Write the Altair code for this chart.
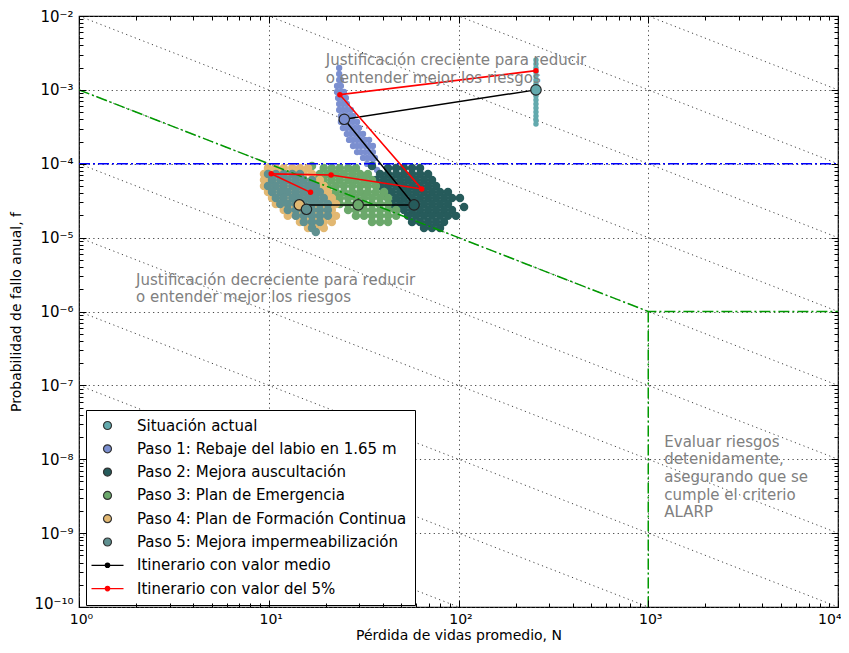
import altair as alt
import pandas as pd

# ---------------- names / colours ----------------
serie_names = [
    "Situación actual",
    "Paso 1: Rebaje del labio en 1.65 m",
    "Paso 2: Mejora auscultación",
    "Paso 3: Plan de Emergencia",
    "Paso 4: Plan de Formación Continua",
    "Paso 5: Mejora impermeabilización",
]
itin_names = ["Itinerario con valor medio", "Itinerario con valor del 5%"]
serie_colors = ["#62a9ad", "#7b8fd0", "#265b5b", "#6ba86b", "#e2b872", "#5f9090"]
itin_colors = ["#000000", "#ff0000"]

# ---------------- scatter clouds (N, f) ----------------
sit_N = [256, 256, 256, 256, 256, 256, 256, 256, 256, 256, 256, 256, 256, 256, 256, 256, 256]
sit_f = [2.54e-3, 2.24e-3, 1.98e-3, 1.75e-3, 1.54e-3, 1.36e-3, 1.20e-3, 1.06e-3, 9.37e-4,
         8.27e-4, 7.30e-4, 6.44e-4, 5.69e-4, 5.02e-4, 4.43e-4, 3.92e-4, 3.46e-4]

p1_rows = [
    (1.98e-3, [23.5]),
    (1.64e-3, [23.5]),
    (1.36e-3, [23.5, 24.0]),
    (1.13e-3, [22.9, 24.0]),
    (9.37e-4, [22.9, 24.0, 24.9]),
    (7.77e-4, [23.2, 24.3, 25.5]),
    (6.44e-4, [23.5, 24.6, 25.8]),
    (5.35e-4, [23.5, 24.6, 25.8, 27.1]),
    (4.43e-4, [24.0, 25.2, 26.5, 27.8]),
    (3.68e-4, [24.0, 25.2, 26.5, 27.8, 29.2]),
    (3.05e-4, [24.6, 25.8, 27.1, 28.5, 29.9]),
    (2.53e-4, [25.8, 27.1, 28.5, 29.9, 31.4]),
    (2.10e-4, [26.5, 27.8, 29.2, 30.6, 32.2, 33.8]),
    (1.74e-4, [27.8, 29.2, 30.6, 32.2, 33.8, 35.4]),
    (1.44e-4, [29.2, 30.6, 32.2, 33.8, 35.4]),
    (1.20e-4, [31.4, 33.0, 34.6, 36.3]),
    (9.94e-5, [33.0, 35.4]),
    (8.24e-5, [37.2]),
]

p2_rows = [
    (9.3e-5, [35.0]),
    (8.77e-5, [42.5, 46.9, 51.6, 56.9, 62.7]),
    (7.28e-5, [38.6, 42.5, 46.9, 51.6, 56.9, 62.7, 69.1]),
    (6.04e-5, [36.7, 40.5, 44.6, 49.2, 54.2, 59.7, 65.8, 72.5]),
    (5.01e-5, [38.6, 42.5, 46.9, 51.6, 56.9, 62.7, 69.1, 76.1]),
    (4.15e-5, [40.5, 44.6, 49.2, 54.2, 59.7, 65.8, 72.5, 79.9, 88.0]),
    (3.44e-5, [42.5, 46.9, 51.6, 56.9, 62.7, 69.1, 76.1, 83.9, 92.4, 101.8]),
    (2.86e-5, [44.6, 49.2, 54.2, 59.7, 65.8, 72.5, 79.9, 88.0]),
    (2.60e-5, [107.0]),
    (2.37e-5, [46.9, 51.6, 56.9, 62.7, 69.1, 76.1, 83.9, 92.4]),
    (1.97e-5, [54.2, 59.7, 65.8, 72.5, 79.9, 88.0, 97.0]),
    (1.63e-5, [56.9, 62.7, 69.1, 76.1, 83.9]),
    (1.35e-5, [65.8, 72.5, 79.9]),
]

p3_rows = [
    (9.3e-5, [16.9]),
    (8.77e-5, [19.5, 21.5, 23.7, 26.2, 28.8]),
    (7.28e-5, [18.6, 20.5, 22.6, 24.9, 27.5, 30.3, 33.3]),
    (6.04e-5, [17.7, 19.5, 21.5, 23.7, 26.2, 28.8, 31.8, 35.0]),
    (5.01e-5, [18.6, 20.5, 22.6, 24.9, 27.5, 30.3, 33.3, 36.7]),
    (4.15e-5, [20.5, 22.6, 24.9, 27.5, 30.3, 33.3, 36.7, 40.5]),
    (3.44e-5, [21.5, 23.7, 26.2, 28.8, 31.8, 35.0, 38.6, 42.5]),
    (2.86e-5, [23.7, 26.2, 28.8, 31.8, 35.0, 38.6, 42.5]),
    (2.37e-5, [26.2, 28.8, 31.8, 35.0, 38.6, 42.5, 46.9]),
    (1.97e-5, [28.8, 31.8, 35.0, 38.6, 42.5, 46.9]),
    (1.63e-5, [35.0, 38.6, 42.5]),
]

p4_rows = [
    (8.77e-5, [9.91, 10.9, 12.0, 13.3, 14.6, 16.1]),
    (7.28e-5, [9.44, 10.4, 11.5, 12.6, 13.9, 15.3, 16.9]),
    (6.04e-5, [9.44, 10.4, 11.5, 12.6, 13.9, 15.3, 16.9, 18.6]),
    (5.01e-5, [9.44, 9.91, 10.9, 12.0, 13.3, 14.6, 16.1, 17.7, 19.5]),
    (4.15e-5, [9.91, 10.4, 11.5, 12.6, 13.9, 15.3, 16.9, 18.6, 20.5]),
    (3.44e-5, [10.4, 10.9, 12.0, 13.3, 14.6, 16.1, 17.7, 19.5, 21.5]),
    (2.86e-5, [10.9, 11.5, 12.6, 13.9, 15.3, 16.9, 18.6, 20.5, 22.6]),
    (2.37e-5, [12.0, 13.3, 14.6, 16.1, 17.7, 19.5, 21.5]),
    (1.97e-5, [12.6, 13.9, 15.3, 16.9, 18.6, 20.5, 22.6]),
    (1.63e-5, [14.6, 16.1, 17.7, 19.5, 21.5]),
    (1.35e-5, [16.1, 17.7, 19.5]),
]

p5_rows = [
    (7.28e-5, [9.91, 10.9, 12.0, 13.3, 14.6]),
    (6.04e-5, [10.4, 11.5, 12.6, 13.9, 15.3, 16.9]),
    (5.01e-5, [9.91, 10.9, 12.0, 13.3, 14.6, 16.1, 17.7]),
    (4.15e-5, [10.4, 11.5, 12.6, 13.9, 15.3, 16.9, 18.6]),
    (3.44e-5, [10.9, 12.0, 13.3, 14.6, 16.1, 17.7, 19.5]),
    (2.86e-5, [11.5, 12.6, 13.9, 15.3, 16.9, 18.6, 20.5]),
    (2.37e-5, [12.6, 13.9, 15.3, 16.9, 18.6, 20.5]),
    (1.97e-5, [13.9, 15.3, 16.9, 18.6, 20.5]),
    (1.63e-5, [15.3, 16.9, 18.6]),
    (1.35e-5, [16.9]),
    (1.19e-5, [17.7]),
]

# ---------------- itineraries ----------------
mean_N = [256, 25.0, 58.3, 29.6, 14.5, 15.8]
mean_f = [1.0e-3, 4.0e-4, 2.77e-5, 2.77e-5, 2.77e-5, 2.42e-5]
pct5_N = [256, 23.7, 64.0, 21.3, 10.3, 16.6]
pct5_f = [1.82e-3, 8.6e-4, 4.56e-5, 7.05e-5, 7.3e-5, 4.1e-5]

# ---------------- reference lines ----------------
iso_levels = [10, 1, 1e-1, 1e-2, 1e-3, 1e-4, 1e-5, 1e-6, 1e-7, 1e-8, 1e-9]   # f * N = constant
alarp_N = [1, 1000, 10000]
alarp_f = [1e-3, 1e-6, 1e-6]
alarp_v_N = [1000, 1000]
alarp_v_f = [1e-6, 1e-10]
limit_f = 1e-4

# ---------------- annotations ----------------
ann_text = [
    "Justificación creciente para reducir\no entender mejor los riesgos",
    "Justificación decreciente para reducir\no entender mejor los riesgos",
    "Evaluar riesgos\ndetenidamente,\nasegurando que se\ncumple el criterio\nALARP",
]
ann_N = [20.0, 2.0, 1215]
ann_f = [3.16e-3, 3.33e-6, 2.14e-8]

# ---------------- axis ticks ----------------
x_major = [1, 10, 100, 1000, 10000]
y_major = [1e-10, 1e-9, 1e-8, 1e-7, 1e-6, 1e-5, 1e-4, 1e-3, 1e-2]
x_all = [m * 10 ** e for e in range(0, 4) for m in range(1, 10)] + [10000]
y_all = [m * 10.0 ** e for e in range(-10, -2) for m in range(1, 10)] + [1e-2]

SUP = {"0": "⁰", "1": "¹", "2": "²", "3": "³", "4": "⁴", "5": "⁵",
       "6": "⁶", "7": "⁷", "8": "⁸", "9": "⁹", "-": "⁻"}


def sup(e):
    return "10" + "".join(SUP[c] for c in str(e))


def label_expr(exps):
    parts = [f"round(log(datum.value)/LN10) == {e} ? '{sup(e)}' : " for e in exps]
    return "".join(parts) + "''"


x_expr = label_expr(range(0, 5))
y_expr = label_expr(range(-10, -1))
is_major = "abs(log(datum.value)/LN10 - round(log(datum.value)/LN10)) < 0.001"
is_last_x = "datum.value > 5000"
is_first_x = "datum.value < 2"
is_first_y = "round(log(datum.value)/LN10) == -10"

# ---------------- data frames ----------------
cloud_recs = [{"N": n, "f": f, "serie": serie_names[0]} for n, f in zip(sit_N, sit_f)]
for name, rows in zip(serie_names[1:], [p1_rows, p2_rows, p3_rows, p4_rows, p5_rows]):
    for f, Ns in rows:
        for n in Ns:
            cloud_recs.append({"N": n, "f": f, "serie": name})
clouds = pd.DataFrame(cloud_recs)

size_map = {serie_names[0]: 30, serie_names[1]: 40}
clouds["sz"] = [size_map.get(s, 72) for s in clouds["serie"]]

mean_df = pd.DataFrame({"N": mean_N, "f": mean_f, "paso": list(range(6)), "serie": serie_names})
pct_df = pd.DataFrame({"N": pct5_N, "f": pct5_f, "paso": list(range(6))})

iso_recs = []
for i, c in enumerate(iso_levels):
    iso_recs.append({"id": i, "N": 1.0, "f": c})
    iso_recs.append({"id": i, "N": 1e4, "f": c / 1e4})
iso_df = pd.DataFrame(iso_recs)

alarp_df = pd.DataFrame(
    [{"id": "a", "N": n, "f": f, "o": i} for i, (n, f) in enumerate(zip(alarp_N, alarp_f))]
    + [{"id": "b", "N": n, "f": f, "o": i} for i, (n, f) in enumerate(zip(alarp_v_N, alarp_v_f))]
)
limit_df = pd.DataFrame({"N": [1.0, 1e4], "f": [limit_f, limit_f]})
ann_df = pd.DataFrame({"N": ann_N, "f": ann_f, "t": ann_text})

legend_names = serie_names + itin_names
LINE_SYM = "M-4,0L4,0M-0.55,0A0.55,0.55,0,1,1,0.55,0A0.55,0.55,0,1,1,-0.55,0Z"
leg_df = pd.DataFrame({"serie": legend_names, "N": [1e7] * 8, "f": [10.0] * 8})
dummy = pd.DataFrame({"N": [1e7], "f": [10.0]})

# ---------------- scales / axes ----------------
W, H = 759, 591
FONT = "DejaVu Sans"
xs = alt.Scale(type="log", domain=[1, 10000], nice=False)
ys = alt.Scale(type="log", domain=[1e-10, 1e-2], nice=False)

ax_x_main = alt.Axis(values=x_major, labelExpr=x_expr, title="Pérdida de vidas promedio, N",
                     grid=True, gridColor="#444444", gridDash=[1.2, 3.4], gridWidth=1,
                     ticks=False, domain=False, labelFontSize=14, labelFont=FONT,
                     labelColor="black", labelPadding=5, titleFont=FONT, titleFontSize=14,
                     titleFontWeight="normal", titleColor="black", titlePadding=2,
                     labelFlush=False,
                     labelAlign={"condition": {"test": is_last_x, "value": "right"}, "value": "center"},
                     labelOffset={"condition": {"test": is_last_x, "value": 3}, "value": 2})
ax_y_main = alt.Axis(values=y_major, labelExpr=y_expr, title="Probabilidad de fallo anual, f",
                     grid=True, gridColor="#444444", gridDash=[1.2, 3.4], gridWidth=1,
                     ticks=False, domain=False, labelFontSize=15, labelFont=FONT,
                     labelColor="black", labelPadding=6, titleFont=FONT, titleFontSize=14,
                     titleFontWeight="normal", titleColor="black", titlePadding=10,
                     labelFlush=False,
                     labelOffset={"condition": {"test": is_first_y, "value": -4}, "value": 0})

tick_size = {"condition": {"test": is_major, "value": 7}, "value": 4}


def tick_axis(orient, offset, values):
    return alt.Axis(orient=orient, offset=offset, values=values, labels=False, grid=False,
                    domain=False, title="", tickSize=tick_size, tickColor="black",
                    tickWidth=1, zindex=2)


def XY(xaxis=None, yaxis=None):
    return dict(x=alt.X("N:Q", scale=xs, axis=xaxis), y=alt.Y("f:Q", scale=ys, axis=yaxis))


axes_main = alt.Chart(dummy).mark_point(opacity=0, clip=True).encode(**XY(ax_x_main, ax_y_main))
axes_in1 = alt.Chart(dummy).mark_point(opacity=0, clip=True).encode(
    **XY(tick_axis("top", -H, x_all), tick_axis("right", -W, y_all)))
axes_in2 = alt.Chart(dummy).mark_point(opacity=0, clip=True).encode(
    **XY(tick_axis("bottom", -H, x_all), tick_axis("left", -W, y_all)))

iso = alt.Chart(iso_df).mark_line(clip=True, color="#444444", strokeDash=[1.2, 3.4],
                                   strokeWidth=1).encode(**XY(), detail="id:N")

cloud_layer = alt.Chart(clouds).mark_circle(clip=True, opacity=1).encode(
    **XY(),
    color=alt.Color("serie:N", scale=alt.Scale(domain=serie_names, range=serie_colors), legend=None),
    size=alt.Size("sz:Q", scale=None, legend=None),
)

alarp = alt.Chart(alarp_df).mark_line(clip=True, color="#009900", strokeWidth=1.5,
                                      strokeDash=[11, 3, 2, 3]).encode(
    **XY(), detail="id:N", order="o:Q")
limit = alt.Chart(limit_df).mark_line(clip=True, color="#0000ff", strokeWidth=1.5,
                                      strokeDash=[11, 3, 2, 3]).encode(**XY())

mean_line = alt.Chart(mean_df).mark_line(clip=True, color="black", strokeWidth=1.5).encode(
    **XY(), order="paso:Q")
pct_line = alt.Chart(pct_df).mark_line(clip=True, color="#ff0000", strokeWidth=1.6).encode(
    **XY(), order="paso:Q")
pct_pts = alt.Chart(pct_df).mark_circle(clip=True, color="#ff0000", size=30, opacity=1).encode(**XY())
mean_pts = alt.Chart(mean_df).mark_point(clip=True, filled=True, size=110, stroke="#222222",
                                         strokeWidth=1.2, opacity=1).encode(
    **XY(),
    color=alt.Color("serie:N", scale=alt.Scale(domain=serie_names, range=serie_colors), legend=None),
)

ann = alt.Chart(ann_df).mark_text(clip=True, align="left", baseline="top", lineBreak="\n",
                                  font=FONT, fontSize=15, lineHeight=17.6,
                                  color="#808080").encode(**XY(), text="t:N")

leg = alt.Legend(title=None, orient="none", legendX=7, legendY=394, strokeColor="black",
                 fillColor="white", padding=8, labelFont=FONT, labelFontSize=15,
                 labelColor="black", symbolSize=64, symbolStrokeWidth=1.2, rowPadding=7.3,
                 symbolOffset=6, labelOffset=22, cornerRadius=0, labelLimit=400,
                 symbolOpacity=1)
legend_layer = alt.Chart(leg_df).mark_point(clip=True, filled=True, opacity=1).encode(
    **XY(),
    fill=alt.Fill("serie:N", scale=alt.Scale(domain=legend_names, range=serie_colors + itin_colors), legend=leg),
    stroke=alt.Stroke("serie:N", scale=alt.Scale(domain=legend_names, range=["#333333"] * 6 + itin_colors), legend=leg),
    shape=alt.Shape("serie:N", scale=alt.Scale(domain=legend_names, range=["circle"] * 6 + [LINE_SYM, LINE_SYM]), legend=leg),
)

chart = alt.layer(
    axes_main, axes_in1, axes_in2, iso, cloud_layer, alarp, limit,
    mean_line, pct_line, pct_pts, mean_pts, ann, legend_layer,
).resolve_axis(x="independent", y="independent").properties(
    width=W, height=H,
    autosize=alt.AutoSizeParams(type="none"),
    padding={"left": 71, "top": 8, "right": 3, "bottom": 38},
).configure_view(stroke="black", strokeWidth=1.2)

chart.save("out.html", embed_options={"renderer": "svg", "actions": False})
